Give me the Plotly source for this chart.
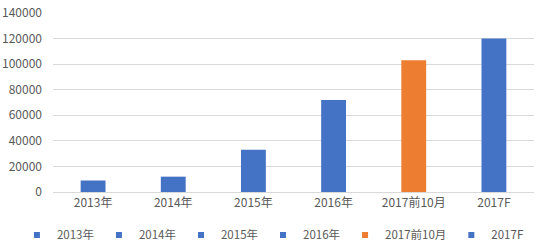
import plotly.graph_objects as go

categories = ["2013年", "2014年", "2015年", "2016年", "2017前10月", "2017F"]
values = [9000, 12000, 33000, 72000, 103000, 120000]
colors = ["#4472C4", "#4472C4", "#4472C4", "#4472C4", "#ED7D31", "#4472C4"]
y_ticks = [0, 20000, 40000, 60000, 80000, 100000, 120000, 140000]

FONT = "Noto Sans CJK SC, DejaVu Sans, sans-serif"
fig = go.Figure()
for c, v, col in zip(categories, values, colors):
    fig.add_trace(go.Bar(x=[c], y=[v], name=c, marker=dict(color=col, line=dict(width=0)),
                         width=0.31, showlegend=False))
for c, col in zip(categories, colors):
    fig.add_trace(go.Scatter(x=[None], y=[None], mode="markers", name=c,
                             marker=dict(symbol="square", size=6, color=col), showlegend=True))

fig.update_layout(
    width=542, height=249,
    margin=dict(l=53, r=8, t=13, b=57, autoexpand=False),
    paper_bgcolor="white", plot_bgcolor="white",
    barmode="overlay",
    font=dict(family=FONT, size=12, color="#595959"),
    showlegend=True,
    legend=dict(orientation="h", x=-0.075, xanchor="left", y=-0.24, yanchor="middle",
                font=dict(size=11.5, color="#595959"), itemwidth=30, tracegroupgap=0,
                bgcolor="rgba(0,0,0,0)", borderwidth=0),
    xaxis=dict(categoryorder="array", categoryarray=categories, showgrid=False,
               showline=True, linecolor="#D9D9D9", linewidth=1, ticks="",
               tickfont=dict(size=12, color="#595959")),
    yaxis=dict(range=[0, 140000], tickvals=y_ticks, ticktext=[str(t) for t in y_ticks],
               showgrid=True, gridcolor="#D9D9D9", gridwidth=1, zeroline=False,
               showline=False, ticks="", ticklabelstandoff=10,
               tickfont=dict(size=12, color="#595959")),
)
fig.write_html("out.html")
